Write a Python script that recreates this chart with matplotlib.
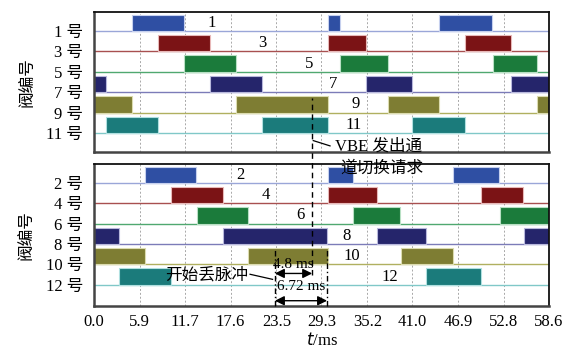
import matplotlib
matplotlib.use("Agg")
import matplotlib.pyplot as plt

plt.rcParams['font.family'] = ['Liberation Serif', 'Noto Sans CJK SC', 'DejaVu Sans']
plt.rcParams['font.size'] = 12

# firing intervals (ms) per valve
V1 = [(4.9, 11.6), (30.1, 31.7), (44.4, 51.3)]
V3 = [(8.3, 14.9), (30.1, 35.0), (47.8, 53.7)]
V5 = [(11.6, 18.3), (31.7, 37.9), (51.4, 57.1)]
V7 = [(0.0, 1.6), (14.9, 21.6), (35.0, 41.0), (53.7, 58.6)]
V9 = [(0.0, 4.9), (18.3, 30.1), (37.9, 44.4), (57.1, 58.6)]
V11 = [(1.6, 8.3), (21.6, 30.1), (41.0, 47.8)]

V2 = [(6.6, 13.2), (30.1, 33.3), (46.3, 52.2)]
V4 = [(9.9, 16.6), (30.1, 36.5), (49.9, 55.3)]
V6 = [(13.3, 19.9), (33.3, 39.4), (52.3, 58.6)]
V8 = [(0.0, 3.2), (16.6, 30.0), (36.5, 42.7), (55.4, 58.6)]
V10 = [(0.0, 6.6), (19.9, 30.1), (39.5, 46.3)]
V12 = [(3.2, 9.9), (42.7, 49.9)]

TOP_NAMES = ["1 号", "3 号", "5 号", "7 号", "9 号", "11 号"]
BOT_NAMES = ["2 号", "4 号", "6 号", "8 号", "10 号", "12 号"]
TOP_TAGS = ["1", "3", "5", "7", "9", "11"]
BOT_TAGS = ["2", "4", "6", "8", "10", "12"]
TOP_TAG_X = [15.2, 21.7, 27.7, 30.8, 33.7, 33.4]
BOT_TAG_X = [18.9, 22.1, 26.6, 32.5, 33.2, 38.1]

XTICKS = [0.0, 5.9, 11.7, 17.6, 23.5, 29.3, 35.2, 41.0, 46.9, 52.8, 58.6]
T_DROP = 23.3          # pulse dropping starts
DT_REQ = 4.8           # until VBE switch request
DT_END = 6.72          # until new sequence

FILL = ["#2f4fa3", "#7b1315", "#1b7b3b", "#25256b", "#7e7d33", "#1b7b7b"]
EDGE = ["#c6d0ee", "#e8b8b8", "#b8e0c4", "#b8b8dc", "#dcdcb0", "#b0e0e0"]
BASE = ["#9aa6d8", "#a85050", "#50a870", "#7c7cb8", "#b0b060", "#80c8c8"]

fig = plt.figure(figsize=(5.7, 3.49), dpi=100)
ax1 = fig.add_axes([0.1649, 0.5645, 0.7982, 0.4011])
ax2 = fig.add_axes([0.1649, 0.1232, 0.7982, 0.4069])


def draw_panel(ax, rows, names, tags, tag_x, ylo):
    for i, iv in enumerate(rows):
        y = 6 - i
        ax.axhline(y, color=BASE[i], lw=1.0, zorder=1)
        ax.broken_barh([(a, b - a) for a, b in iv], (y, 0.8),
                       facecolors=FILL[i], edgecolors=EDGE[i], linewidth=0.8, zorder=2)
        ax.text(tag_x[i], y + 0.4, tags[i], ha="center", va="center", fontsize=12, zorder=3)
    ax.set_xlim(0, 58.6)
    ax.set_ylim(ylo, 6.93)
    ax.set_yticks([6, 5, 4, 3, 2, 1])
    ax.set_yticklabels(names)
    ax.set_xticks(XTICKS)
    for t in XTICKS[1:-1]:
        ax.axvline(t, color="#a8a8a8", lw=0.7, ls=(0, (2, 2)), zorder=0)
    ax.tick_params(length=0, pad=8, labelsize=12)
    ax.set_ylabel("阀编号", fontsize=12, labelpad=7)
    for s in ("top", "right"):
        ax.spines[s].set_color("#111111")
        ax.spines[s].set_linewidth(1.3)
    for s in ("left", "bottom"):
        ax.spines[s].set_color("#444444")
        ax.spines[s].set_linewidth(1.8)


draw_panel(ax1, [V1, V3, V5, V7, V9, V11], TOP_NAMES, TOP_TAGS, TOP_TAG_X, 0.07)
draw_panel(ax2, [V2, V4, V6, V8, V10, V12], BOT_NAMES, BOT_TAGS, BOT_TAG_X, -0.05)
ax1.set_xticklabels([])
ax2.set_xticklabels([f"{t:.1f}" for t in XTICKS])
ax2.tick_params(axis="x", pad=6)
ax2.set_xlabel("$t$/ms", fontsize=12, labelpad=1)

# annotations live on the lower axes, drawn above both panels
t_req = T_DROP + DT_REQ
t_end = T_DROP + DT_END
ax2.plot([t_req, t_req], [1.45, 10.18], color="black", lw=1.0, ls=(0, (4, 3)),
         clip_on=False, zorder=5)
for t in (T_DROP, t_end):
    ax2.plot([t, t], [-0.05, 2.8], color="black", lw=1.0, ls=(0, (4, 2, 1, 2)),
             clip_on=False, zorder=5)

arrow = dict(arrowstyle="<|-|>", color="black", lw=1.0, mutation_scale=14,
             shrinkA=0, shrinkB=0)
ax2.annotate("", xy=(T_DROP, 1.55), xytext=(t_req, 1.55), arrowprops=arrow, zorder=6)
ax2.annotate("", xy=(T_DROP, 0.21), xytext=(t_end, 0.21), arrowprops=arrow, zorder=6)
ax2.text((T_DROP + t_req) / 2, 2.0, f"{DT_REQ} ms", ha="center", va="center",
         fontsize=11, zorder=6)
ax2.text((T_DROP + t_end) / 2, 0.9, f"{DT_END} ms", ha="center", va="center",
         fontsize=11, zorder=6)

ax2.plot([20.1, 23.0], [1.51, 1.26], color="black", lw=0.9, zorder=6)
ax2.text(19.9, 1.45, "开始丢脉冲", ha="right", va="center", fontsize=12, zorder=6)

ax2.plot([28.24, 30.4], [8.08, 7.82], color="black", lw=0.9, clip_on=False, zorder=6)
ax2.text(31.0, 7.8, "VBE 发出通", ha="left", va="center", fontsize=12,
         clip_on=False, zorder=6)
ax2.text(31.7, 6.72, "道切换请求", ha="left", va="center", fontsize=12,
         clip_on=False, zorder=6)

fig.savefig("out.png", dpi=100)
